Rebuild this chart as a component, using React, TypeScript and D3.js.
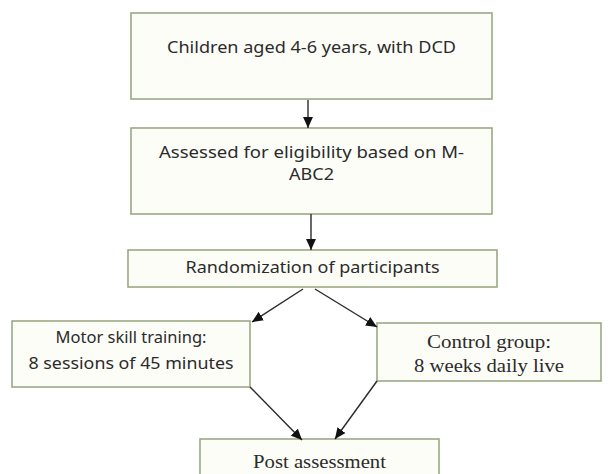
import React from "react";
import * as d3 from "d3";

// ---- content ----
const boxLabels: string[][] = [
  ["Children aged 4-6 years, with DCD"],
  ["Assessed for eligibility based on M-", "ABC2"],
  ["Randomization of participants"],
  ["Motor skill training:", "8 sessions of 45 minutes"],
  ["Control group:", "8 weeks daily live"],
  ["Post assessment"],
];
const boxFonts: string[] = ["sans", "sans", "sans", "sans", "serif", "serif"];
// edges: [from, to]
const edges: [number, number][] = [
  [0, 1],
  [1, 2],
  [2, 3],
  [2, 4],
  [3, 5],
  [4, 5],
];

// ---- layout (pixels) ----
const W = 608;
const H = 474;
const boxes = [
  { x: 131, y: 13, w: 361, h: 86, base: [53], tl: [289] },
  { x: 131, y: 128, w: 361, h: 86, base: [158, 180], tl: [305, 45] },
  { x: 128, y: 250, w: 369, h: 37, base: [273], tl: [254] },
  { x: 12, y: 321, w: 238, h: 66, base: [343, 369], tl: [151, 205] },
  { x: 377, y: 323, w: 224, h: 58, base: [348, 372], tl: [124, 150] },
  { x: 200, y: 439, w: 239, h: 45, base: [468], tl: [133] },
];
const edgePts: [number, number, number, number][] = [
  [308, 100, 308, 128],
  [311, 214, 311, 250],
  [303, 289, 252, 322],
  [315, 289, 377, 327],
  [250, 387, 302, 440],
  [377, 381, 335, 439],
];

const SANS = "'Noto Sans', 'Open Sans', sans-serif";
const SERIF = "'Liberation Serif', 'DejaVu Serif', serif";

export default function App() {
  const line = d3.line<[number, number]>();
  return (
    <svg
      width={W}
      height={H}
      style={{ position: "absolute", left: 0, top: 0, background: "#ffffff" }}
    >
      <defs>
        <marker
          id="ah"
          viewBox="0 0 10 10"
          refX={10}
          refY={5}
          markerWidth={11}
          markerHeight={11}
          markerUnits="userSpaceOnUse"
          orient="auto"
        >
          <path d="M0,0.5 L10,5 L0,9.5 Z" fill="#111" />
        </marker>
      </defs>
      {boxes.map((b, i) => (
        <g key={i}>
          <rect
            x={b.x}
            y={b.y}
            width={b.w}
            height={b.h}
            fill="#fdfdf8"
            stroke="#9aa982"
            strokeWidth={1.6}
          />
          {boxLabels[i].map((t, j) => (
            <text
              key={j}
              x={b.x + b.w / 2}
              y={b.base[j]}
              textAnchor="middle"
              fontFamily={boxFonts[i] === "sans" ? SANS : SERIF}
              fontSize={boxFonts[i] === "sans" ? 17 : 18}
              fill="#2b2b2b"
              textLength={b.tl[j]}
              lengthAdjust="spacingAndGlyphs"
            >
              {t}
            </text>
          ))}
        </g>
      ))}
      {edges.map((e, i) => {
        const p = edgePts[i];
        return (
          <path
            key={i}
            d={line([
              [p[0], p[1]],
              [p[2], p[3]],
            ]) || ""}
            stroke="#2a2a2a"
            strokeWidth={1.4}
            fill="none"
            markerEnd="url(#ah)"
          />
        );
      })}
    </svg>
  );
}
